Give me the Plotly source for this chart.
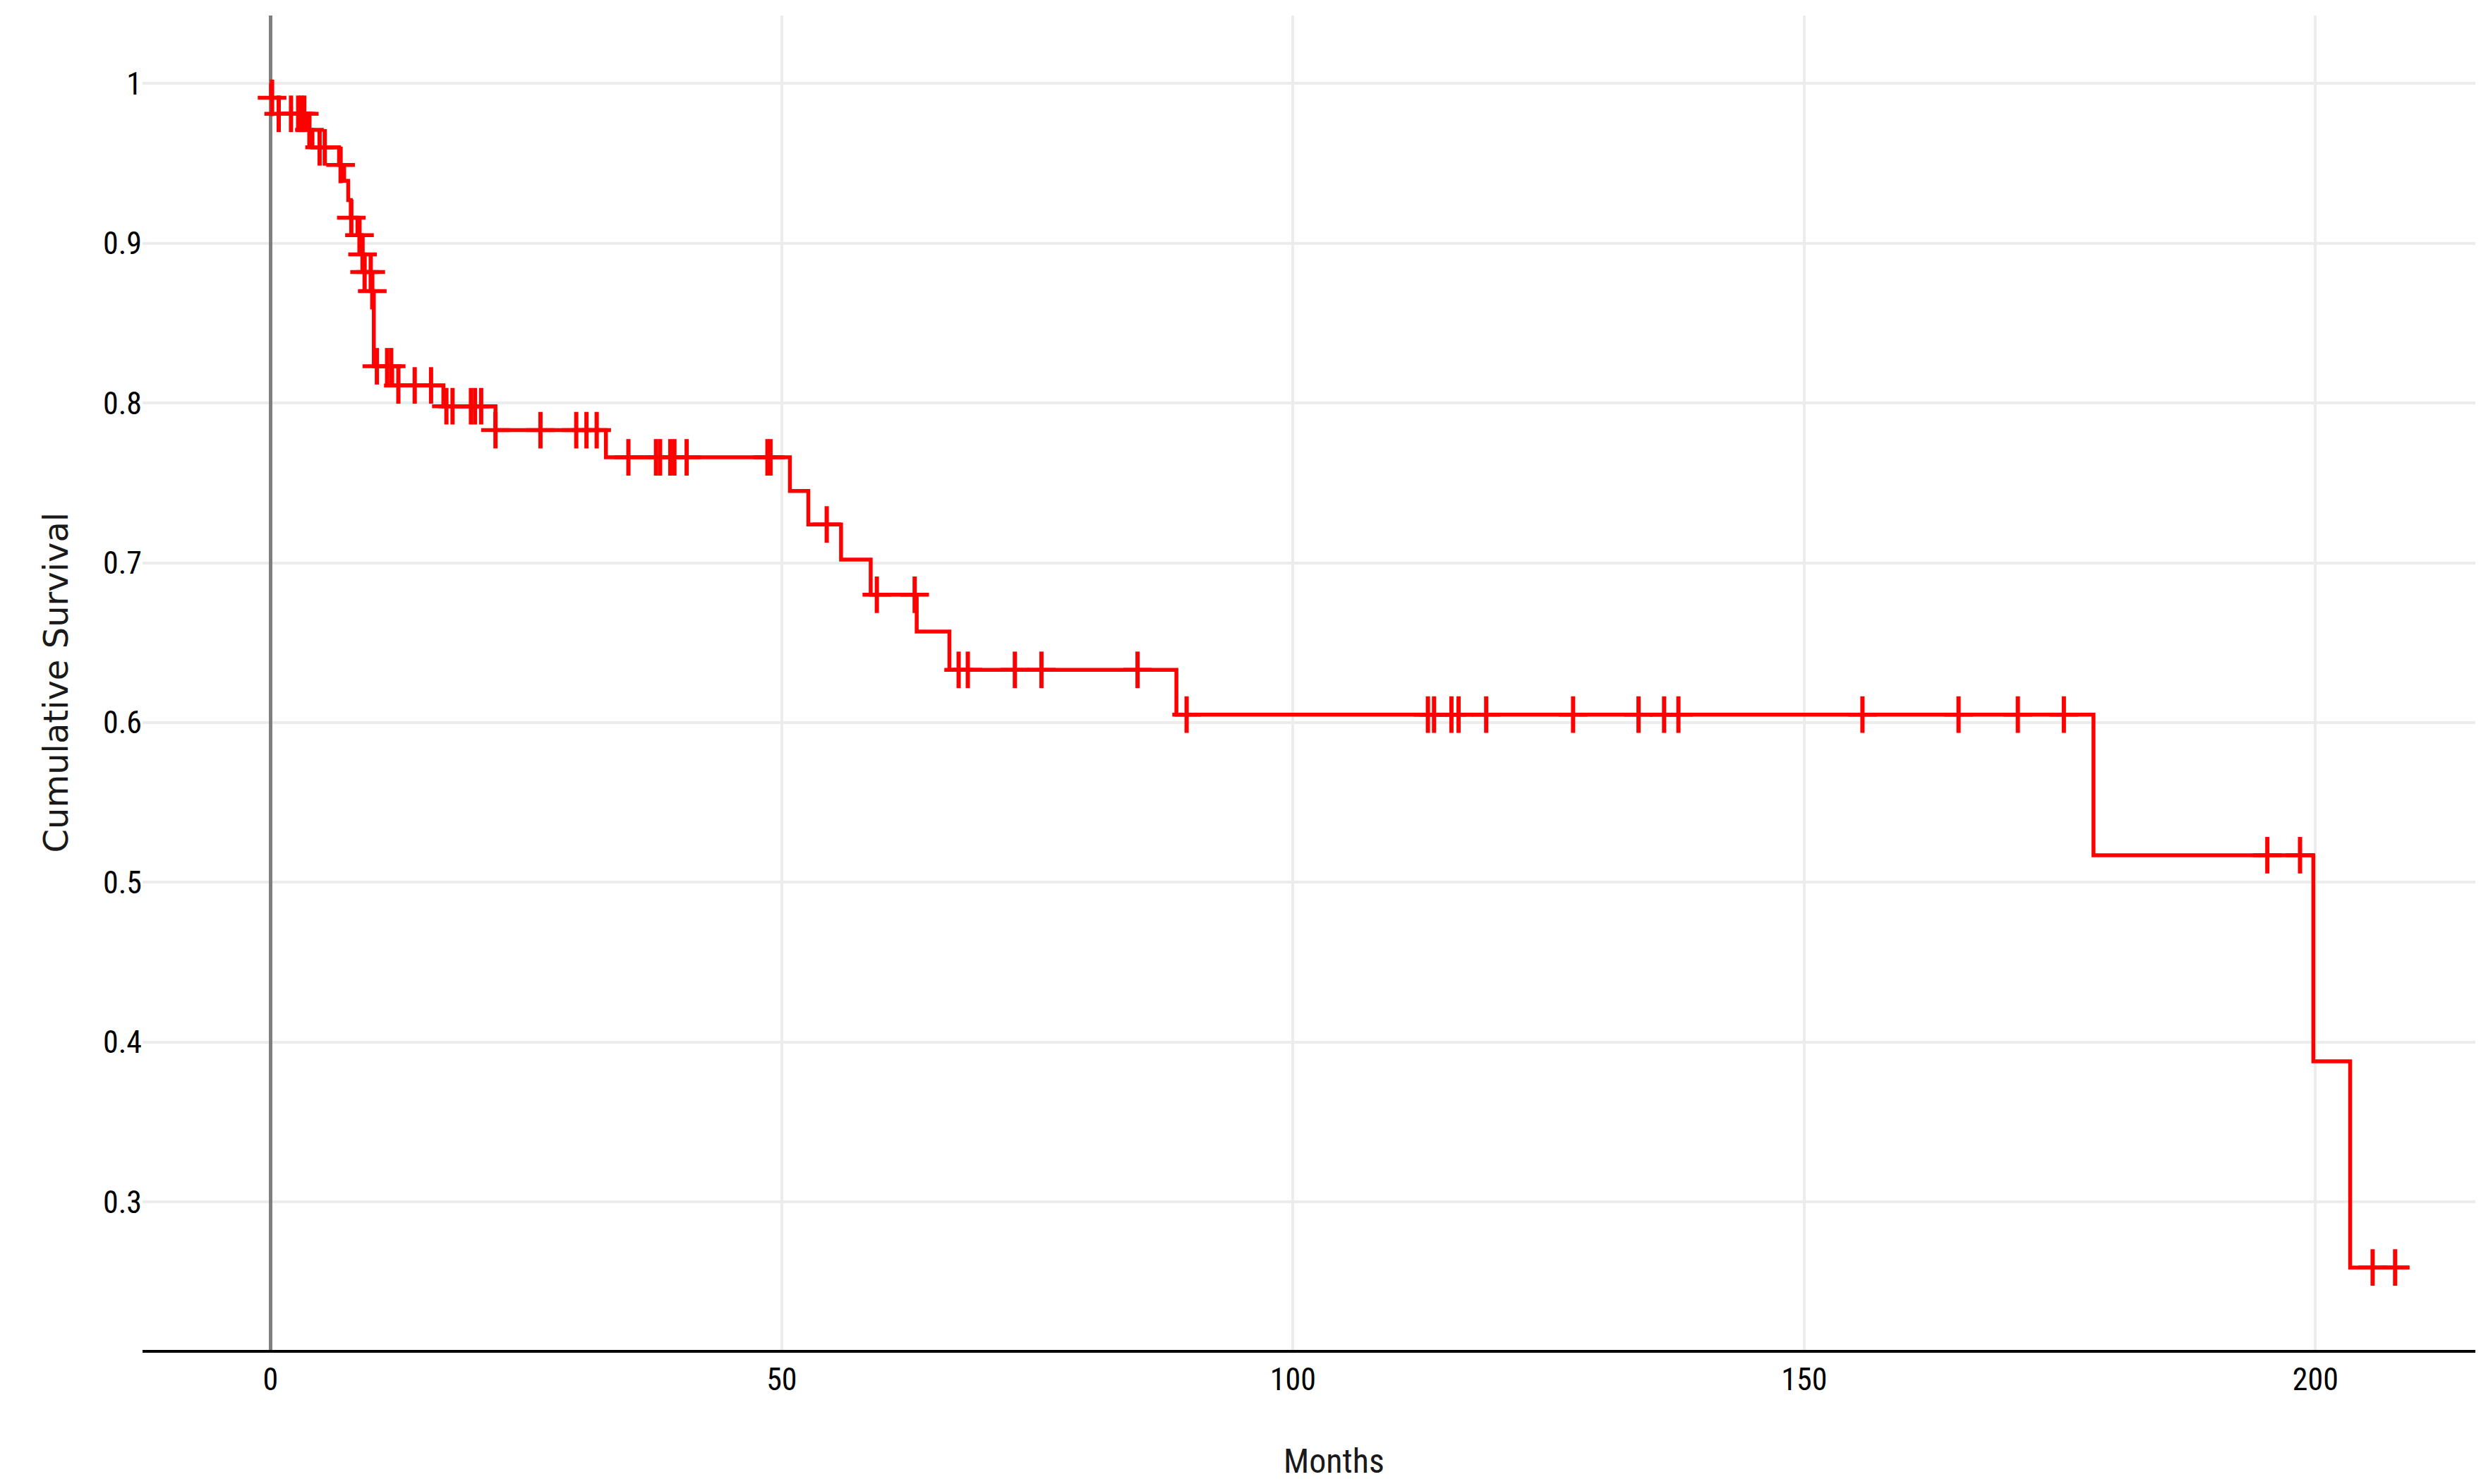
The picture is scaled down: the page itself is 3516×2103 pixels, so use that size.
import numpy as np
import plotly.graph_objects as go

# Kaplan-Meier step curve (months, cumulative survival after each step)
step_months = [0, 0.05, 0.8, 3.5, 4.1, 6.7, 7.2, 7.6, 7.85, 8.5, 8.9, 9.15, 9.85, 10.1,
               11.9, 16.9, 22.0, 32.8, 50.8, 52.6, 55.8, 58.7, 63.2, 66.4, 88.6,
               178.3, 199.8, 203.4, 209.2]
step_survival = [1.0, 0.991, 0.981, 0.971, 0.960, 0.949, 0.939, 0.927, 0.916, 0.905,
                 0.893, 0.882, 0.870, 0.823, 0.811, 0.798, 0.783, 0.766, 0.745, 0.724,
                 0.702, 0.680, 0.657, 0.633, 0.605, 0.517, 0.388, 0.259, 0.259]

# censored observations (months)
censor_months = [0.15, 0.8, 2.0, 2.7, 3.0, 3.3, 3.8, 4.8, 5.3, 6.85, 7.9, 8.7, 9.0, 9.2,
                 9.8, 9.95, 10.4, 11.4, 11.8, 12.5, 14.1, 15.7, 17.2, 17.8, 19.6, 20.0,
                 20.6, 22.0, 26.4, 29.9, 30.9, 31.9, 35.0, 37.7, 38.1, 39.1, 39.5, 40.7,
                 48.6, 48.9, 54.4, 59.3, 63.0, 67.3, 68.2, 72.8, 75.4, 84.8, 89.6,
                 113.2, 113.8, 115.5, 116.2, 118.9, 127.4, 133.8, 136.3, 137.7, 155.7,
                 165.1, 170.9, 175.4, 195.3, 198.5, 205.6, 207.8]

x_ticks = [0, 50, 100, 150, 200]
y_ticks = [0.3, 0.4, 0.5, 0.6, 0.7, 0.8, 0.9, 1.0]

# survival level of the curve at each censor time
idx = np.searchsorted(np.array(step_months), np.array(censor_months), side="right") - 1
censor_survival = [step_survival[i] for i in idx]

RED = "#ff0000"
fig = go.Figure()
fig.add_trace(go.Scatter(x=step_months, y=step_survival, mode="lines",
                         line=dict(color=RED, width=5.5, shape="hv"),
                         hoverinfo="x+y", name="Survival"))
fig.add_trace(go.Scatter(x=censor_months, y=censor_survival, mode="markers",
                         marker=dict(symbol="line-ns", size=37,
                                     line=dict(color=RED, width=6)),
                         name="Censored"))
fig.add_trace(go.Scatter(x=censor_months, y=censor_survival, mode="markers",
                         marker=dict(symbol="line-ew", size=29,
                                     line=dict(color=RED, width=5.5)),
                         name="Censored", showlegend=False))

tick_font = dict(family="Liberation Sans Narrow, Roboto Condensed, Roboto, sans-serif",
                 size=44, color="#000000")

fig.update_layout(
    width=3508, height=2095,
    margin=dict(l=194, r=0, t=14, b=190),
    paper_bgcolor="white", plot_bgcolor="white",
    showlegend=False,
    xaxis=dict(range=[-12.52, 216.2], tickvals=x_ticks, ticks="",
               showgrid=True, gridcolor="#ececec", gridwidth=4,
               zeroline=True, zerolinecolor="#7f7f7f", zerolinewidth=5,
               showline=True, linecolor="#000000", linewidth=4,
               tickfont=tick_font),
    yaxis=dict(range=[0.2074, 1.0425], tickvals=y_ticks, ticks="",
               showgrid=True, gridcolor="#ececec", gridwidth=4,
               zeroline=False, showline=False,
               tickfont=tick_font),
    annotations=[
        dict(text="Cumulative Survival", xref="paper", yref="paper",
             x=-0.0374, y=0.5, xanchor="center", yanchor="middle",
             textangle=-90, showarrow=False,
             font=dict(family="DejaVu Sans", size=48, color="#1a1a1a")),
        dict(text="Months", xref="paper", yref="paper",
             x=0.5094, y=-0.0835, xanchor="center", yanchor="middle",
             showarrow=False,
             font=dict(family="Liberation Sans Narrow, Roboto Condensed, Roboto, sans-serif",
                       size=48, color="#1a1a1a")),
    ],
)

fig.write_html("out.html")
